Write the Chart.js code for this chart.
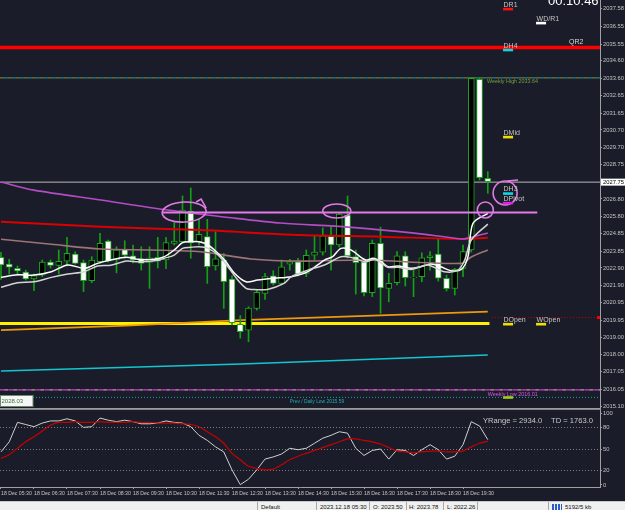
<!DOCTYPE html>
<html>
<head>
<meta charset="utf-8">
<script src="https://cdn.jsdelivr.net/npm/chart.js@4.4.1/dist/chart.umd.min.js"></script>
<style>
  body { margin: 0; width: 625px; height: 510px; overflow: hidden; position: relative; background: #1a1d29; font-family: "Liberation Sans", Arial, sans-serif; }
  #main { position: absolute; left: 0; top: 0; }
  #osc { position: absolute; left: 0; top: 408px; }
  #status { position: absolute; left: 0; top: 501px; width: 625px; height: 9px; background: #f0f0f0; border-top: 1px solid #c8c8c8; box-sizing: border-box; }
  #status span { position: absolute; top: 2px; font-size: 6px; line-height: 7px; color: #111; white-space: nowrap; }
  #status i { position: absolute; top: 0; width: 1px; height: 9px; background: #a8a8a8; }
  #status b { position: absolute; left: 552px; top: 2px; width: 10px; height: 7px; background: repeating-linear-gradient(90deg, #2a5cc8 0 2px, #f0f0f0 2px 3px); }
</style>
</head>
<body>
<canvas id="main" width="625" height="408"></canvas>
<canvas id="osc" width="625" height="93"></canvas>
<div id="status">
  <i style="left:257px"></i><span style="left:261px">Default</span>
  <i style="left:316px"></i><span style="left:320px">2023.12.18 05:30</span>
  <i style="left:369px"></i><span style="left:373px">O: 2023.50</span>
  <i style="left:406px"></i><span style="left:409px">H: 2023.78</span>
  <i style="left:443px"></i><span style="left:447px">L: 2022.26</span>
  <i style="left:477px"></i>
  <i style="left:548px"></i><b></b><span style="left:565px">5192/5 kb</span>
</div>
<script>
// XAUUSD M15, 18 Dec, одна свеча = 15 минут, индекс 0 = 05:30
const timeLabels = ['05:30','06:30','07:30','08:30','09:30','10:30','11:30','12:30','13:30','14:30','15:30','16:30','17:30','18:30','19:30']

const open  = [2023.50,2023.12,2022.88,2022.67,2022.28,2022.50,2023.24,2023.05,2023.29,2023.69,
               2023.20,2022.18,2023.25,2024.42,2023.35,2023.95,2023.58,2023.41,2023.22,2023.50,
               2023.35,2024.29,2024.38,2026.12,2024.37,2024.67,2023.01,2023.35,2022.28,2019.72,
               2019.39,2020.62,2021.47,2022.45,2022.03,2023.12,2023.25,2022.60,2023.63,2023.80,
               2024.71,2024.21,2025.89,2023.54,2023.25,2021.51,2024.29,2021.75,2022.07,2023.59,
               2022.35,2022.41,2023.48,2023.69,2022.32,2021.75,2022.88,2023.92,2033.56,2027.97]
const high  = [2023.78,2023.39,2023.01,2022.78,2022.56,2023.35,2023.35,2023.92,2024.63,2023.82,
               2023.35,2023.54,2024.86,2024.48,2024.10,2024.44,2024.20,2024.10,2024.10,2024.63,
               2024.63,2025.46,2026.97,2027.42,2025.65,2025.65,2024.95,2023.73,2022.45,2020.21,
               2020.71,2021.65,2022.60,2022.75,2023.35,2023.39,2023.45,2023.92,2024.71,2025.17,
               2025.23,2026.02,2026.97,2023.92,2023.46,2024.48,2025.21,2022.60,2023.82,2023.82,
               2022.88,2023.76,2023.82,2024.58,2022.50,2022.88,2024.20,2033.66,2033.63,2028.34]
const low   = [2022.26,2022.56,2022.50,2022.22,2021.62,2022.41,2022.90,2022.56,2023.01,2023.12,
               2021.56,2022.07,2023.16,2023.24,2022.63,2023.46,2023.18,2022.78,2021.75,2022.90,
               2022.86,2024.20,2024.31,2023.45,2024.20,2022.03,2022.78,2020.62,2019.68,2018.94,
               2018.73,2020.52,2021.13,2021.94,2021.94,2022.78,2022.45,2022.41,2023.35,2023.63,
               2022.78,2024.08,2023.46,2021.43,2021.32,2021.28,2020.34,2020.99,2021.94,2021.88,
               2021.28,2022.12,2022.78,2022.16,2021.60,2021.37,2022.41,2023.80,2027.87,2027.12]
const close = [2023.07,2022.94,2022.73,2022.28,2022.46,2023.24,2023.05,2023.28,2023.73,2023.16,
               2022.18,2023.35,2024.29,2023.29,2023.92,2023.63,2023.35,2023.16,2023.48,2023.29,
               2024.33,2024.42,2026.17,2024.33,2024.80,2022.97,2023.42,2022.12,2019.81,2019.30,
               2020.64,2021.53,2022.41,2022.03,2022.97,2023.25,2022.56,2023.62,2023.80,2024.71,
               2024.20,2025.95,2023.58,2023.20,2021.51,2024.29,2021.78,2022.03,2023.59,2022.35,
               2022.39,2023.48,2023.59,2022.32,2021.73,2022.82,2023.82,2033.62,2028.00,2027.78]

// скользящие средние: [индекс свечи, цена]
const maPurple = [[0,2027.76],[4,2027.30],[12.1,2026.74],[20.2,2026.18],[28.2,2025.72],[33.9,2025.44],
                  [42.1,2025.21],[50.1,2024.87],[55.8,2024.54],[56.6,2024.59],[59,2024.88]]
const maRed    = [[0,2025.51],[12.1,2025.23],[24.2,2025.04],[36.4,2024.76],[46.1,2024.67],[55.8,2024.54],[59,2024.61]]
const maBrown  = [[0,2024.52],[6.1,2024.24],[12.1,2023.97],[18.2,2023.92],[24.2,2023.82],[30.3,2023.41],
                  [36.4,2023.29],[44.2,2023.35],[55.8,2023.16],[57,2023.52],[59,2023.92]]
const maFast   = [[0,2022.37],[2,2022.52],[4,2022.50],[6.1,2022.69],[8.1,2023.07],[10.1,2022.88],[11.7,2023.16],
                  [13.3,2023.35],[15.2,2023.50],[16.6,2023.39],[18.6,2023.39],[19.8,2023.54],[21,2023.92],
                  [22,2024.33],[23,2024.38],[24,2024.38],[25.1,2024.20],[26.1,2023.82],[27.1,2023.35],
                  [28.3,2022.60],[29.7,2022.12],[31.1,2022.22],[33.1,2022.32],[35.2,2022.41],[37.2,2022.69],
                  [39.2,2023.35],[40.2,2023.54],[41.2,2024.01],[42.4,2023.92],[44.2,2023.35],[45.1,2023.45],
                  [46.1,2023.25],[46.9,2022.97],[48.1,2023.01],[49.7,2022.88],[50.9,2022.97],[52.1,2023.12],
                  [53.3,2022.97],[54.5,2022.75],[55.8,2022.82],[56.6,2023.54],[57.2,2025.42],[59,2025.99]]
const maSlow   = [[0,2021.81],[2,2022.07],[4,2022.12],[6.1,2022.37],[8.1,2022.56],[10.1,2022.69],[11.7,2023.01],
                  [13.3,2023.05],[15.2,2023.29],[16.6,2023.25],[18.6,2023.31],[19.8,2023.45],[21,2023.63],
                  [22,2024.01],[23,2024.07],[24,2024.10],[25.1,2024.01],[26.3,2023.63],[27.5,2022.97],
                  [28.7,2022.22],[29.7,2021.75],[30.3,2021.69],[32.3,2021.69],[34.3,2022.03],[35.2,2022.41],
                  [37.2,2022.78],[39.2,2023.07],[40.2,2023.31],[41.2,2023.54],[42.4,2023.50],[44.2,2023.25],
                  [45.3,2023.39],[46.9,2022.94],[48.1,2022.94],[49.7,2022.82],[51.7,2023.07],[53.7,2022.69],
                  [55.4,2022.78],[56.2,2023.35],[57,2024.48],[59,2025.38]]
const maOrange = [[0,2019.39],[15.2,2019.64],[29.1,2019.96],[44.2,2020.19],[59,2020.43]]
const maCyan   = [[0,2017.08],[29.1,2017.47],[59,2017.98]]

// уровни
const levelR2 = 2035.36
const weeklyHigh = 2033.64
const bidPrice = 2027.75
const drawnLevel = 2026.04
const dayOpen = 2019.76
const redLevel = 2020.10
const weeklyLow = 2016.01
const prevDailyLow = 2015.59

const levelNames  = ['DR1','WD/R1','DH4','DMid','DH3','DPivot','DOpen','WOpen','']
const levelPrices = [2037.53,2036.74,2035.22,2030.30,2027.11,2026.57,2019.73,2019.73,2015.59]

// пометки от руки: [индекс, цена]
const markIdx   = [22.2, 40.7, 61.1, 58.7]
const markPrice = [2026.06, 2026.12, 2027.14, 2026.18]

const yTicks = [2037.58,2036.55,2035.55,2034.60,2033.60,2032.65,2031.65,2030.70,2029.70,2028.75,2026.80,
                2025.80,2024.85,2023.85,2022.90,2021.90,2020.95,2019.95,2019.00,2018.00,2017.05,2016.05,2015.10]

// осциллятор
const oscMain   = [46,60,87,84,81,86,89,89,92,89,80,81,93,90,88,90,88,85,85,86,
                   89,87,86,81,69,62,53,46,21,0.5,8,21,36,39,43,51,49,51,58,65,
                   69,74,72,51,41,48,50,36,49,48,41,49,56,49,36,40,56,88,82,63]
const oscSignal = [37,42,51,60,67,75,83,87,87,88,87,87,88,87,87,87,88,87,87,86,
                   86,86,85,84,81,74,67,58,44,35,26,23,21,22,28,35,40,44,48,52,
                   56,60,64,64,62,60,57,52,47,46,45,46,47,47,46,46,47,53,58,61]
const oscTicks = [0, 20, 50, 80, 100]

const X_MIN = -0.12
const X_MAX = 72.6
const FONT = 'Liberation Sans'
const AXIS = '#a0a0a0'
const TEXT = '#c4c4c4'

function lineDs(points, color, width, extra) {
  return Object.assign({
    type: 'line',
    data: points.map(([x, y]) => ({ x, y })),
    borderColor: color,
    borderWidth: width,
    pointRadius: 0,
    tension: 0,
    fill: false,
    order: 20
  }, extra || {})
}

function hline(price, x0, x1, color, width, extra) {
  return lineDs([[x0, price], [x1, price]], color, width, extra)
}

function text(ctx, s, x, y, color, size, base) {
  ctx.fillStyle = color
  ctx.font = `${size}px "${FONT}"`
  ctx.textBaseline = base || 'alphabetic'
  ctx.textAlign = 'left'
  ctx.fillText(s, x, y)
}

const idx = open.map((_, i) => i)
const wickData = idx.map(i => ({ x: i, y: [low[i], high[i]] }))
const bodyData = idx.map(i => ({ x: i, y: [open[i], close[i]] }))
const bodyColors = idx.map(i => close[i] >= open[i] ? '#000000' : '#ffffff')

// Надписи, маркеры уровней и кружки
const mainDeco = {
  id: 'mainDeco',
  afterDatasetsDraw(chart) {
    const { ctx, scales: { x, y } } = chart
    ctx.save()
    ctx.strokeStyle = '#e27ae6'
    ctx.lineWidth = 1.6
    const radii = [[22, 10, -0.05], [14, 7, 0], [12, 12, 0], [8, 8, 0]]
    markIdx.forEach((mi, k) => {
      ctx.beginPath()
      ctx.ellipse(x.getPixelForValue(mi), y.getPixelForValue(markPrice[k]), radii[k][0], radii[k][1], radii[k][2], 0, Math.PI * 2)
      ctx.stroke()
    })
    // хвостики от руки
    ctx.beginPath()
    ctx.moveTo(x.getPixelForValue(markIdx[0]) + 12, y.getPixelForValue(markPrice[0]) - 10)
    ctx.lineTo(x.getPixelForValue(markIdx[0]) + 17, y.getPixelForValue(markPrice[0]) - 13)
    ctx.lineTo(x.getPixelForValue(markIdx[0]) + 22, y.getPixelForValue(markPrice[0]) - 4)
    ctx.moveTo(x.getPixelForValue(markIdx[2]) + 2, y.getPixelForValue(markPrice[2]) - 12)
    ctx.lineTo(x.getPixelForValue(markIdx[2]) + 13, y.getPixelForValue(markPrice[2]) - 13)
    ctx.stroke()
    ctx.restore()
  },
  afterDraw(chart) {
    const { ctx, scales: { x, y } } = chart
    ctx.save()
    const markColors = ['#ff1010', '#ffffff', '#10d8e0', '#f0e000', '#10d8e0', '#e020e0', '#f0e000', '#f0e000', '#9ed020']
    levelNames.forEach((n, k) => {
      const px = x.getPixelForValue(n.startsWith('W') ? 64.85 : 60.85)
      const py = y.getPixelForValue(levelPrices[k])
      ctx.fillStyle = markColors[k]
      ctx.fillRect(px, py - 1.2, 10, 2.6)
      if (n) text(ctx, n, px + 0.5, py - 2.2, TEXT, 7)
    })
    text(ctx, 'QR2', x.getPixelForValue(68.85), y.getPixelForValue(levelR2) - 3, '#d8d8d8', 7)
    text(ctx, 'Weekly High 2033.64', x.getPixelForValue(58.9), y.getPixelForValue(weeklyHigh) + 5.5, '#74a040', 5.4)
    text(ctx, 'Weekly Low 2016.01', x.getPixelForValue(59.0), y.getPixelForValue(weeklyLow) + 6, '#e050e0', 5.4)
    text(ctx, 'Prev / Daily Low 2015.59', x.getPixelForValue(35.0), y.getPixelForValue(prevDailyLow) + 5.8, '#1fb0b0', 4.9)
    text(ctx, '00:10:46', 548, 5, '#ffffff', 13)

    // поле цены слева внизу
    ctx.fillStyle = '#f6f6f6'
    ctx.fillRect(0, 395, 33, 11.5)
    ctx.strokeStyle = '#6a8a6a'
    ctx.lineWidth = 1
    ctx.strokeRect(0.5, 395.5, 32.5, 11)
    text(ctx, '2028.03', 1.5, 401.5, '#3e6e3e', 6, 'middle')

    // текущая цена на шкале
    const by = y.getPixelForValue(bidPrice)
    ctx.fillStyle = '#ffffff'
    ctx.fillRect(601, by - 3.5, 24, 7)
    text(ctx, bidPrice.toFixed(2), 603, by + 0.3, '#000000', 5.8, 'middle')
    ctx.fillStyle = '#ff0000'
    ctx.fillRect(597, y.getPixelForValue(redLevel) - 1.5, 3, 3)
    ctx.restore()
  }
}

new Chart(document.getElementById('main'), {
  type: 'bar',
  data: {
    datasets: [
      hline(weeklyHigh, X_MIN, X_MAX, '#8c8c34', 1, { borderDash: [4, 4] }),
      hline(weeklyHigh, X_MIN, X_MAX, '#1f9ea8', 1, { borderDash: [4, 4], borderDashOffset: 4 }),
      hline(weeklyLow, X_MIN, X_MAX, '#d838d8', 1.2, { borderDash: [5, 4] }),
      hline(weeklyLow, X_MIN, X_MAX, '#b8a0ac', 1.2, { borderDash: [4, 5], borderDashOffset: 4.5 }),
      hline(prevDailyLow, X_MIN, X_MAX, '#19a4a4', 1, { borderDash: [1, 2] }),
      hline(redLevel, 59.5, X_MAX, '#c00000', 1, { borderDash: [1, 2] }),
      hline(bidPrice, X_MIN, X_MAX, '#b8b8b8', 1),
      hline(levelR2, X_MIN, X_MAX, '#ff0000', 3.6),
      lineDs(maCyan, '#12c6d0', 1.5),
      lineDs(maOrange, '#ee980c', 1.8),
      hline(dayOpen, X_MIN, 59.2, '#fff000', 3),
      lineDs(maPurple, '#b44cc4', 1.6, { tension: 0.3, order: 2 }),
      lineDs(maRed, '#dc0000', 2, { tension: 0.3, order: 2 }),
      lineDs(maBrown, '#9c7474', 1.6, { tension: 0.3, order: 2 }),
      {
        type: 'bar',
        data: wickData,
        backgroundColor: '#14a014',
        barThickness: 1,
        grouped: false,
        order: 5
      },
      {
        type: 'bar',
        data: bodyData,
        backgroundColor: bodyColors,
        borderColor: '#1ca81c',
        borderWidth: 1,
        borderSkipped: false,
        barThickness: 6,
        grouped: false,
        order: 4
      },
      lineDs(maSlow, '#d4d4d4', 1.5, { tension: 0.3, order: 1 }),
      lineDs(maFast, '#ffffff', 1.5, { tension: 0.3, order: 1 }),
      hline(drawnLevel, 19.5, 65, '#e47ae8', 2, { order: 0 })
    ]
  },
  options: {
    responsive: false,
    animation: false,
    devicePixelRatio: 1,
    layout: { padding: 0 },
    plugins: { legend: { display: false }, tooltip: { enabled: false } },
    scales: {
      x: { type: 'linear', min: X_MIN, max: X_MAX, offset: false, display: false },
      y: {
        position: 'right',
        min: 2014.99,
        max: 2038.04,
        afterBuildTicks: s => { s.ticks = yTicks.map(v => ({ value: v })) },
        afterFit: s => { s.width = 25; s.paddingTop = 0; s.paddingBottom = 0 },
        ticks: {
          color: TEXT,
          font: { family: FONT, size: 5.8 },
          padding: 1,
          autoSkip: false,
          callback: v => Number(v).toFixed(2)
        },
        grid: { drawOnChartArea: false, tickLength: 2, color: AXIS },
        border: { color: AXIS, width: 1 }
      }
    }
  },
  plugins: [mainDeco]
})

// Нижнее окно
const oscDeco = {
  id: 'oscDeco',
  afterDraw(chart) {
    const { ctx } = chart
    ctx.save()
    ctx.fillStyle = '#9c9c9c'
    ctx.fillRect(0, 0, 601, 1.8)
    text(ctx, 'YRange = 2934.0', 483, 12.5, '#c8c8c8', 7.6, 'middle')
    text(ctx, 'TD = 1763.0', 551, 12.5, '#c8c8c8', 7.6, 'middle')
    ctx.restore()
  }
}

new Chart(document.getElementById('osc'), {
  type: 'line',
  data: {
    datasets: [
      { data: idx.map(i => ({ x: i, y: oscSignal[i] })), borderColor: '#c80000', borderWidth: 1.2, pointRadius: 0, tension: 0.2 },
      { data: idx.map(i => ({ x: i, y: oscMain[i] })), borderColor: '#d0d0d0', borderWidth: 1, pointRadius: 0, tension: 0 }
    ]
  },
  options: {
    responsive: false,
    animation: false,
    devicePixelRatio: 1,
    layout: { padding: { top: 1, left: 0, right: 0, bottom: 0 } },
    plugins: { legend: { display: false }, tooltip: { enabled: false } },
    scales: {
      x: {
        type: 'linear',
        min: X_MIN,
        max: X_MAX,
        afterBuildTicks: s => { s.ticks = timeLabels.map((_, k) => ({ value: k * 4 })) },
        afterFit: s => { s.height = 14; s.paddingLeft = 0; s.paddingRight = 0 },
        ticks: {
          align: 'start',
          color: TEXT,
          font: { family: FONT, size: 5.2 },
          padding: 1,
          maxRotation: 0,
          autoSkip: false,
          callback: (v, k) => '18 Dec ' + timeLabels[k]
        },
        grid: { drawOnChartArea: false, tickLength: 2, color: AXIS },
        border: { color: AXIS, width: 1 }
      },
      y: {
        position: 'right',
        min: -2.78,
        max: 105.56,
        afterBuildTicks: s => { s.ticks = oscTicks.map(v => ({ value: v })) },
        afterFit: s => { s.width = 25; s.paddingTop = 0; s.paddingBottom = 0 },
        ticks: { color: TEXT, font: { family: FONT, size: 5.8 }, padding: 1, autoSkip: false },
        grid: {
          color: c => (c.tick && [20, 50, 80].includes(c.tick.value)) ? '#7a7a7a' : 'rgba(0,0,0,0)',
          tickColor: AXIS,
          tickLength: 2
        },
        border: { color: AXIS, width: 1, dash: [1, 2] }
      }
    }
  },
  plugins: [oscDeco]
})
</script>
</body>
</html>
